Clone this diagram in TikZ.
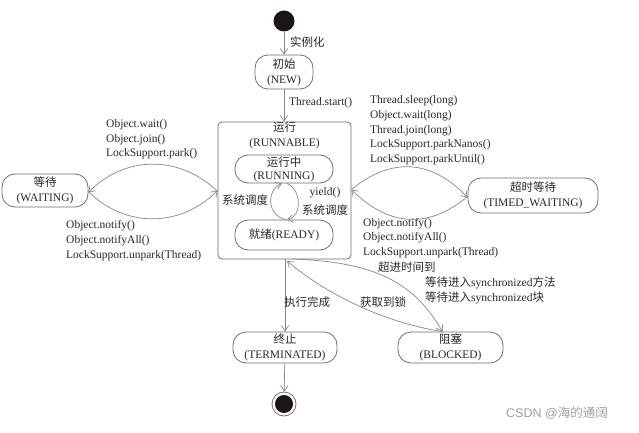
\documentclass[tikz,border=0pt]{standalone}
\usepackage{fontspec}
\setmainfont{Liberation Serif}
\newfontfamily\cjk{Noto Sans CJK SC}
\newfontfamily\wmfont{Liberation Sans}
\usetikzlibrary{arrows.meta}
\definecolor{ln}{RGB}{135,135,135}
\definecolor{bd}{RGB}{110,110,110}
\definecolor{tx}{RGB}{40,40,40}
\definecolor{dotc}{RGB}{30,22,22}
\newcommand{\fs}{\fontsize{11.5pt}{14.7pt}\selectfont}
\newcommand{\fst}{\fontsize{11.5pt}{15pt}\selectfont}
\begin{document}
\begin{tikzpicture}[x=1pt,y=-1pt,
  state/.style={draw=bd, line width=0.8pt, rounded corners=13pt, align=center,
    font=\fst, text=tx, inner sep=0pt},
  lbl/.style={font=\fs, text=tx, align=left, inner sep=0pt},
  conn/.style={draw=ln, line width=0.7pt, -{Straight Barb[length=5.5pt,width=7.5pt]}}
]
\useasboundingbox[fill=white] (0,0) rectangle (639,433);

% start / end
\node[circle, fill=dotc, minimum size=21pt, inner sep=0pt] (start) at (284,21) {};
\node[circle, draw=bd, line width=0.8pt, minimum size=24pt, inner sep=0pt] (endo) at (284,404) {};
\node[circle, fill=dotc, minimum size=18pt, inner sep=0pt] (endi) at (284,404) {};

% states
\node[state, minimum width=58pt, minimum height=34pt] (new) at (284,72) {{\cjk 初始}\\(NEW)};
\node[draw=bd, line width=0.8pt, rounded corners=4pt, minimum width=133pt, minimum height=137pt, inner sep=0pt] (runnable) at (284.5,190.5) {};
\node[font=\fst, text=tx, align=center, inner sep=0pt] (rtitle) at (284.5,135.5) {{\cjk 运行}\\(RUNNABLE)};
\node[state, minimum width=98pt, minimum height=28pt, font=\fontsize{11.5pt}{13pt}\selectfont] (running) at (284,169) {{\cjk 运行中}\\(RUNNING)};
\node[state, minimum width=98pt, minimum height=30pt] (ready) at (284,235) {{\cjk 就绪}(READY)};
\node[state, minimum width=86pt, minimum height=33pt] (waiting) at (45,190.5) {{\cjk 等待}\\(WAITING)};
\node[state, minimum width=130pt, minimum height=35pt] (timed) at (533,195.5) {{\cjk 超时等待}\\(TIMED\_WAITING)};
\node[state, minimum width=104pt, minimum height=31pt] (term) at (285,347.5) {{\cjk 终止}\\(TERMINATED)};
\node[state, minimum width=105pt, minimum height=31pt] (blocked) at (450.5,347.5) {{\cjk 阻塞}\\(BLOCKED)};

% straight arrows
\draw[conn] (start) -- (new);
\draw[conn] (new) -- (runnable.north -| new);
\draw[conn] (runnable.south -| term) -- (term);
\draw[conn] (term) -- (endo);

% waiting arcs
\draw[conn] ([yshift=-1pt]runnable.west) .. controls (180,155) and (125,155) .. ([yshift=-2pt]waiting.east);
\draw[conn] ([yshift=-1pt]waiting.east) .. controls (125,228) and (180,228) .. ([yshift=0pt]runnable.west);

% timed arcs
\draw[conn] ([yshift=1pt]runnable.east) .. controls (390,158) and (430,158) .. ([yshift=-2pt]timed.west);
\draw[conn] ([yshift=-1pt]timed.west) .. controls (430,228) and (390,228) .. ([yshift=1pt]runnable.east);

% running <-> ready cycle
\draw[conn] ([xshift=2pt]ready.north) .. controls (267,216) and (266,190) .. ([xshift=-2pt]running.south);
\draw[conn] ([xshift=3pt]running.south) .. controls (302,190) and (302,217) .. ([xshift=3pt]ready.north);

% blocked curves
\coordinate (rbA) at (292,259);
\coordinate (rbB) at (287,261);
\draw[conn] (rbA) .. controls (380,262) and (415,285) .. ([xshift=-8pt]blocked.north);
\draw[conn] ([xshift=-8pt]blocked.north) .. controls (400,325) and (340,305) .. (rbB);

% labels
\node[lbl, anchor=west] (l1) at (290,42) {\cjk 实例化};
\node[lbl, anchor=west] (l2) at (289,103) {Thread.start()};
\node[lbl, anchor=west] (l3) at (106,139.5) {Object.wait()\\Object.join()\\LockSupport.park()};
\node[lbl, anchor=west] (l4) at (66,240.5) {Object.notify()\\Object.notifyAll()\\LockSupport.unpark(Thread)};
\node[lbl, anchor=west] (l5) at (370,130.5) {Thread.sleep(long)\\Object.wait(long)\\Thread.join(long)\\LockSupport.parkNanos()\\LockSupport.parkUntil()};
\node[lbl, anchor=west] (l6) at (363,238) {Object.notify()\\Object.notifyAll()\\LockSupport.unpark(Thread)};
\node[lbl, anchor=west] (l7) at (378,267) {\cjk 超进时间到};
\node[lbl, anchor=west] (l8) at (425,290.5) {{\cjk 等待进入}synchronized{\cjk 方法}\\{\cjk 等待进入}synchronized{\cjk 块}};
\node[lbl] (l9) at (245,200) {\cjk 系统调度};
\node[lbl] (l10) at (325,193) {yield()};
\node[lbl] (l11) at (325,210) {\cjk 系统调度};
\node[lbl] (l12) at (307,302) {\cjk 执行完成};
\node[lbl] (l13) at (383,302) {\cjk 获取到锁};
\node[inner sep=0pt, text=gray!75, font=\wmfont\fontsize{12.5pt}{14pt}\selectfont] (wm) at (557,413) {CSDN @{\cjk 海的通阔}};
\end{tikzpicture}
\end{document}
